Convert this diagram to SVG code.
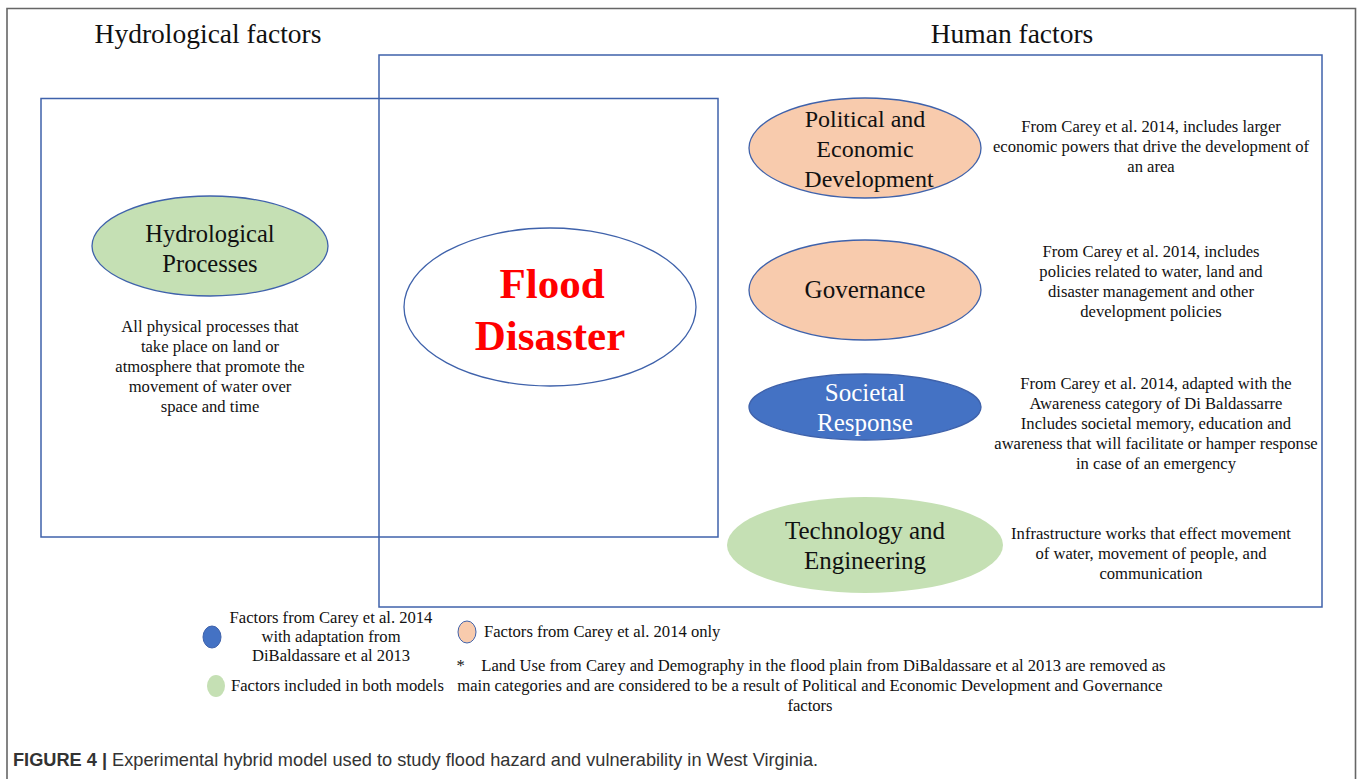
<svg xmlns="http://www.w3.org/2000/svg" width="1358" height="779" viewBox="0 0 1358 779">
<style>
.t{font-family:"Liberation Serif","Times New Roman",serif;fill:#111;text-anchor:middle}
.h{font-size:27.5px}
.n{font-size:25px}
.r{font-size:16.6px}
.frame{fill:none;stroke:#3f62ab;stroke-width:1.5}
.ell{stroke:#3f62ab;stroke-width:1.3}
.or{fill:#f8cbad}
.gr{fill:#c5e0b4}
.bl{fill:#4472c4}
.cap{font-family:"Liberation Sans",Arial,sans-serif;font-size:18.2px;fill:#333}
</style>
<rect x="0" y="0" width="1358" height="779" fill="#fff"/>
<path d="M7 790 V8.5 H1355.5 V790" fill="none" stroke="#666" stroke-width="1.6"/>
<text class="t h" x="208" y="43">Hydrological factors</text>
<text class="t h" x="1012" y="43">Human factors</text>
<g id="connectors">
<rect class="frame" x="379" y="55" width="943" height="552"/>
<rect class="frame" x="41" y="98.5" width="677" height="438.5"/>
</g>
<g id="hydro">
<ellipse class="ell gr" cx="210" cy="246" rx="118" ry="50"/>
<text class="t n" x="210" y="242" style="font-size:24.5px">Hydrological</text>
<text class="t n" x="210" y="272" style="font-size:24.5px">Processes</text>
<text class="t r" x="210" y="332">All physical processes that</text>
<text class="t r" x="210" y="352">take place on land or</text>
<text class="t r" x="210" y="372">atmosphere that promote the</text>
<text class="t r" x="210" y="392">movement of water over</text>
<text class="t r" x="210" y="412">space and time</text>
</g>
<g id="flood">
<ellipse class="ell" cx="550" cy="307" rx="146" ry="79" fill="#fff"/>
<text class="t" x="552" y="298" font-size="43" font-weight="bold" style="fill:#f00">Flood</text>
<text class="t" x="550" y="350" font-size="43" font-weight="bold" style="fill:#f00">Disaster</text>
</g>
<g id="political">
<ellipse class="ell or" cx="865" cy="148" rx="116" ry="50"/>
<text class="t n" x="865" y="127" style="font-size:24px">Political and</text>
<text class="t n" x="865" y="157" style="font-size:24px">Economic</text>
<text class="t n" x="869" y="187" style="font-size:24px">Development</text>
<text class="t r" x="1151" y="132">From Carey et al. 2014, includes larger</text>
<text class="t r" x="1151" y="152">economic powers that drive the development of</text>
<text class="t r" x="1151" y="172">an area</text>
</g>
<g id="governance">
<ellipse class="ell or" cx="865" cy="290" rx="116" ry="50"/>
<text class="t n" x="865" y="298">Governance</text>
<text class="t r" x="1151" y="257">From Carey et al. 2014, includes</text>
<text class="t r" x="1151" y="277">policies related to water, land and</text>
<text class="t r" x="1151" y="297">disaster management and other</text>
<text class="t r" x="1151" y="317">development policies</text>
</g>
<g id="societal">
<ellipse class="ell bl" cx="865" cy="407" rx="116" ry="33"/>
<text class="t n" x="865" y="401" style="fill:#fff">Societal</text>
<text class="t n" x="865" y="431" style="fill:#fff">Response</text>
<text class="t r" x="1156" y="389">From Carey et al. 2014, adapted with the</text>
<text class="t r" x="1156" y="409">Awareness category of Di Baldassarre</text>
<text class="t r" x="1156" y="429">Includes societal memory, education and</text>
<text class="t r" x="1156" y="449">awareness that will facilitate or hamper response</text>
<text class="t r" x="1156" y="469">in case of an emergency</text>
</g>
<g id="technology">
<ellipse class="gr" cx="865" cy="545" rx="138" ry="48"/>
<text class="t n" x="865" y="539">Technology and</text>
<text class="t n" x="865" y="569">Engineering</text>
<text class="t r" x="1151" y="539">Infrastructure works that effect movement</text>
<text class="t r" x="1151" y="559">of water, movement of people, and</text>
<text class="t r" x="1151" y="579">communication</text>
</g>
<g id="legend">
<ellipse class="bl" cx="212" cy="637" rx="9" ry="11" stroke="#3f62ab"/>
<text class="t r" x="331" y="623">Factors from Carey et al. 2014</text>
<text class="t r" x="331" y="642">with adaptation from</text>
<text class="t r" x="331" y="661">DiBaldassare et al 2013</text>
<ellipse class="or" cx="467" cy="632" rx="9" ry="11" stroke="#3f62ab" stroke-width="1"/>
<text class="t r" x="484" y="637" style="text-anchor:start">Factors from Carey et al. 2014 only</text>
<ellipse class="gr" cx="216" cy="686" rx="9" ry="11"/>
<text class="t r" x="231" y="691" style="text-anchor:start">Factors included in both models</text>
<text class="t r" x="811" y="671" xml:space="preserve">*    Land Use from Carey and Demography in the flood plain from DiBaldassare et al 2013 are removed as</text>
<text class="t r" x="810" y="691">main categories and are considered to be a result of Political and Economic Development and Governance</text>
<text class="t r" x="810" y="711">factors</text>
</g>
<text class="cap" x="13" y="766"><tspan font-weight="bold">FIGURE 4 |</tspan> Experimental hybrid model used to study flood hazard and vulnerability in West Virginia.</text>
</svg>
